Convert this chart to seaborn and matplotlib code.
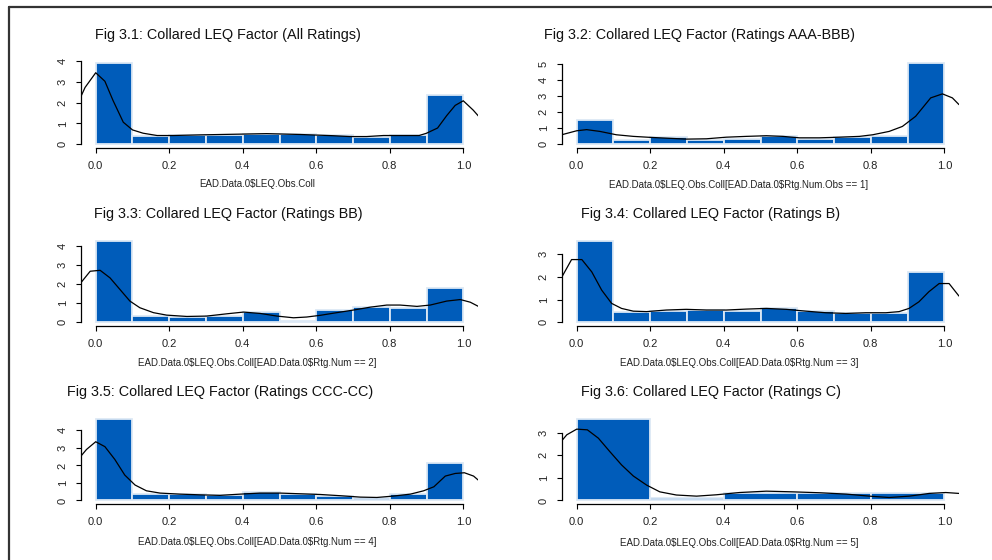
import numpy as np
import pandas as pd
import matplotlib
matplotlib.use("Agg")
import matplotlib.pyplot as plt
from matplotlib.lines import Line2D
import seaborn as sns

# ---------------- data ----------------
titles = [
    "Fig 3.1: Collared LEQ Factor (All Ratings)",
    "Fig 3.2: Collared LEQ Factor (Ratings AAA-BBB)",
    "Fig 3.3: Collared LEQ Factor (Ratings BB)",
    "Fig 3.4: Collared LEQ Factor (Ratings B)",
    "Fig 3.5: Collared LEQ Factor (Ratings CCC-CC)",
    "Fig 3.6: Collared LEQ Factor (Ratings C)",
]
xlabels = [
    "EAD.Data.0$LEQ.Obs.Coll",
    "EAD.Data.0$LEQ.Obs.Coll[EAD.Data.0$Rtg.Num.Obs == 1]",
    "EAD.Data.0$LEQ.Obs.Coll[EAD.Data.0$Rtg.Num == 2]",
    "EAD.Data.0$LEQ.Obs.Coll[EAD.Data.0$Rtg.Num == 3]",
    "EAD.Data.0$LEQ.Obs.Coll[EAD.Data.0$Rtg.Num == 4]",
    "EAD.Data.0$LEQ.Obs.Coll[EAD.Data.0$Rtg.Num == 5]",
]
x_ticks = [0.0, 0.2, 0.4, 0.6, 0.8, 1.0]
x_tick_labels = ["0.0", "0.2", "0.4", "0.6", "0.8", "1.0"]

edges_10 = [0.0, 0.1, 0.2, 0.3, 0.4, 0.5, 0.6, 0.7, 0.8, 0.9, 1.0]
edges_5 = [0.0, 0.2, 0.4, 0.6, 0.8, 1.0]

dens_all = [3.92, 0.42, 0.46, 0.46, 0.50, 0.48, 0.44, 0.35, 0.43, 2.36]
dens_aaa = [1.52, 0.24, 0.43, 0.24, 0.32, 0.53, 0.32, 0.45, 0.53, 5.08]
dens_bb = [4.29, 0.33, 0.28, 0.33, 0.54, 0.07, 0.63, 0.80, 0.73, 1.81]
dens_b = [3.57, 0.47, 0.51, 0.54, 0.49, 0.61, 0.49, 0.39, 0.39, 2.21]
dens_ccc = [4.65, 0.36, 0.36, 0.29, 0.48, 0.36, 0.23, 0.13, 0.36, 2.11]
dens_c = [3.60, 0.12, 0.34, 0.34, 0.34]

kde_all_x = [-0.045, -0.029, 0.0, 0.025, 0.047, 0.075, 0.10, 0.129, 0.167, 0.21, 0.283, 0.374,
             0.465, 0.556, 0.647, 0.692, 0.737, 0.783, 0.828, 0.88, 0.90, 0.93, 0.955, 0.978,
             1.0, 1.027, 1.043]
kde_all_y = [2.11, 2.73, 3.44, 3.03, 2.11, 1.06, 0.69, 0.53, 0.42, 0.42, 0.45, 0.48,
             0.51, 0.47, 0.41, 0.37, 0.37, 0.42, 0.42, 0.42, 0.53, 0.78, 1.38, 1.87,
             2.09, 1.64, 1.32]

kde_aaa_x = [-0.041, 0.0, 0.027, 0.063, 0.108, 0.154, 0.199, 0.244, 0.298, 0.353, 0.407, 0.461,
             0.516, 0.561, 0.606, 0.660, 0.715, 0.769, 0.805, 0.850, 0.886, 0.922, 0.963, 0.995,
             1.022, 1.040]
kde_aaa_y = [0.59, 0.84, 0.91, 0.80, 0.59, 0.49, 0.43, 0.38, 0.32, 0.34, 0.44, 0.49,
             0.53, 0.49, 0.40, 0.40, 0.44, 0.49, 0.59, 0.80, 1.11, 1.74, 2.89, 3.14,
             2.89, 2.47]

kde_bb_x = [-0.043, -0.015, 0.012, 0.039, 0.066, 0.093, 0.12, 0.157, 0.193, 0.248, 0.302, 0.357,
            0.402, 0.447, 0.493, 0.538, 0.574, 0.611, 0.656, 0.702, 0.747, 0.792, 0.828, 0.874,
            0.910, 0.955, 0.992, 1.019, 1.043]
kde_bb_y = [2.02, 2.69, 2.74, 2.34, 1.73, 1.12, 0.77, 0.51, 0.38, 0.31, 0.33, 0.45,
            0.54, 0.47, 0.33, 0.24, 0.28, 0.37, 0.51, 0.65, 0.80, 0.91, 0.91, 0.84,
            0.91, 1.12, 1.20, 1.06, 0.82]

kde_b_x = [-0.041, -0.014, 0.014, 0.041, 0.068, 0.095, 0.122, 0.154, 0.19, 0.244, 0.298, 0.353,
           0.407, 0.461, 0.516, 0.57, 0.624, 0.678, 0.732, 0.787, 0.841, 0.877, 0.904, 0.931,
           0.958, 0.986, 1.013, 1.040]
kde_b_y = [1.97, 2.75, 2.75, 2.21, 1.41, 0.83, 0.61, 0.49, 0.47, 0.54, 0.57, 0.54,
           0.54, 0.58, 0.61, 0.57, 0.49, 0.42, 0.39, 0.42, 0.42, 0.47, 0.61, 0.90,
           1.34, 1.70, 1.70, 1.15]

kde_ccc_x = [-0.043, -0.025, 0.0, 0.025, 0.052, 0.079, 0.107, 0.138, 0.175, 0.229, 0.284, 0.338,
             0.393, 0.447, 0.502, 0.556, 0.611, 0.665, 0.72, 0.765, 0.81, 0.856, 0.892, 0.92,
             0.951, 0.978, 1.003, 1.028, 1.043]
kde_ccc_y = [2.46, 2.91, 3.35, 3.07, 2.34, 1.45, 0.88, 0.55, 0.42, 0.36, 0.32, 0.29,
             0.36, 0.42, 0.42, 0.38, 0.34, 0.27, 0.19, 0.17, 0.25, 0.36, 0.55, 0.78,
             1.39, 1.54, 1.58, 1.39, 1.12]

kde_c_x = [-0.041, -0.027, 0.0, 0.029, 0.059, 0.09, 0.122, 0.154, 0.190, 0.226, 0.271, 0.326,
           0.38, 0.443, 0.516, 0.588, 0.66, 0.733, 0.796, 0.850, 0.905, 0.959, 1.004, 1.040]
kde_c_y = [2.63, 2.90, 3.15, 3.12, 2.75, 2.16, 1.57, 1.08, 0.68, 0.38, 0.24, 0.19,
           0.25, 0.35, 0.41, 0.38, 0.34, 0.28, 0.19, 0.13, 0.19, 0.31, 0.35, 0.31]

y_tick_max = [4, 5, 4, 3, 4, 3]

panels = [
    (edges_10, dens_all, kde_all_x, kde_all_y),
    (edges_10, dens_aaa, kde_aaa_x, kde_aaa_y),
    (edges_10, dens_bb, kde_bb_x, kde_bb_y),
    (edges_10, dens_b, kde_b_x, kde_b_y),
    (edges_10, dens_ccc, kde_ccc_x, kde_ccc_y),
    (edges_5, dens_c, kde_c_x, kde_c_y),
]

# ---------------- style ----------------
sns.set_style("white")
plt.rcParams["font.family"] = ["Liberation Sans", "DejaVu Sans"]

W, H = 992, 560
fig = plt.figure(figsize=(W / 100, H / 100), dpi=100)

BAR = "#005CBA"
EDGE = "#DCE8F5"

col_left = [81, 562]
row_top = [59.5, 237.6, 415.7]
ax_w, ax_h = 397, 88

title_pos = [(228, 35), (700, 35), (228, 214), (711, 214), (220, 392), (711, 392)]
xlab_pos = [(257.5, 183.5), (739, 185), (257.5, 363), (739, 363.3), (257.5, 541.7), (739, 542.7)]

for i, (edges, dens, kx, ky) in enumerate(panels):
    r, c = divmod(i, 2)
    left = col_left[c]
    top = row_top[r]
    ax = fig.add_axes([left / W, 1 - (top + ax_h) / H, ax_w / W, ax_h / H])
    ax.set_facecolor("none")

    centers = [(edges[k] + edges[k + 1]) / 2 for k in range(len(dens))]
    df = pd.DataFrame({"x": centers, "w": dens})
    sns.histplot(data=df, x="x", weights="w", bins=edges, stat="count", ax=ax,
                 color=BAR, edgecolor=EDGE, linewidth=1.3, alpha=1, shrink=1)
    kdf = pd.DataFrame({"x": kx, "y": ky})
    sns.lineplot(data=kdf, x="x", y="y", ax=ax, color="black", linewidth=0.9,
                 estimator=None, sort=False)

    ymax = max(dens)
    ax.set_xlim(-0.04, 1.04)
    ax.set_ylim(-0.04 * ymax, 1.04 * ymax)
    ax.set_xlabel("")
    ax.set_ylabel("")

    for s in ["top", "right"]:
        ax.spines[s].set_visible(False)
    for s in ["left", "bottom"]:
        ax.spines[s].set_color("black")
        ax.spines[s].set_linewidth(0.9)
    ax.spines["bottom"].set_bounds(0, 1)
    ax.spines["left"].set_bounds(0, y_tick_max[i])

    ax.set_xticks(x_ticks)
    ax.set_xticklabels(x_tick_labels)
    ax.set_yticks(list(range(0, y_tick_max[i] + 1)))
    ax.tick_params(axis="both", which="both", direction="out", length=3.5, width=0.8,
                   color="black", labelsize=8, labelcolor="#222222",
                   bottom=True, left=True)
    ax.tick_params(axis="x", pad=6)
    ax.tick_params(axis="y", pad=6, labelrotation=90)
    for lab in ax.get_yticklabels():
        lab.set_va("center")

    tx, ty = title_pos[i]
    fig.text(tx / W, 1 - ty / H, titles[i], ha="center", va="center",
             fontsize=10.4, color="#111111", parse_math=False)
    lx, ly = xlab_pos[i]
    fig.text(lx / W, 1 - ly / H, xlabels[i], ha="center", va="center",
             fontsize=7, color="#222222", parse_math=False)

# outer frame lines (top and left)
fig.add_artist(Line2D([9 / W, 1.0], [1 - 6.5 / H, 1 - 6.5 / H], transform=fig.transFigure,
                      color="#333333", linewidth=1.6))
fig.add_artist(Line2D([9 / W, 9 / W], [1 - 6.5 / H, 0.0], transform=fig.transFigure,
                      color="#333333", linewidth=1.6))

fig.savefig("out.png", dpi=100)
